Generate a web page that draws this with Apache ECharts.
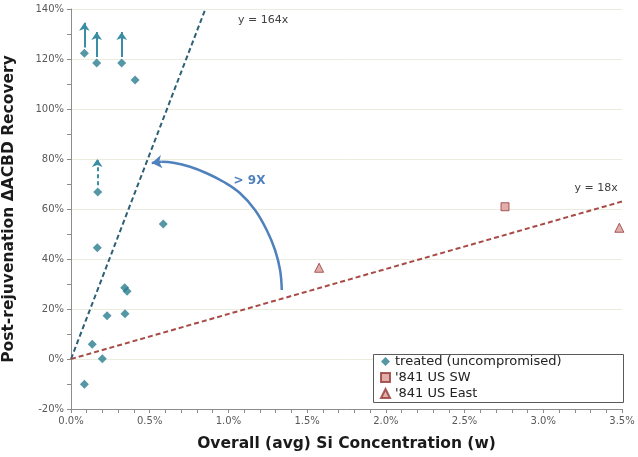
<!DOCTYPE html>
<html>
<head>
    <meta charset="UTF-8">
    <title>Si concentration vs recovery</title>
    <script src="https://cdn.jsdelivr.net/npm/echarts@6/dist/echarts.min.js"></script>
</head>
<style>
    html, body { margin: 0; padding: 0; background: #fff; }
    #chart { width: 638px; height: 457px; }
</style>
<body>
<div id="chart"></div>
<script>
// data (x = Si %, y = recovery %)
const treated = [
    [0.085, 122.3], [0.163, 118.4], [0.322, 118.4], [0.407, 111.6],
    [0.170, 66.8], [0.167, 44.5], [0.586, 54.0], [0.341, 28.5],
    [0.356, 27.1], [0.229, 17.3], [0.343, 18.1], [0.135, 5.9],
    [0.199, 0.1], [0.085, -10.1]
];
const usSW = [[2.757, 60.9]];
const usEast = [[1.576, 36.5], [3.483, 52.5]];

// "at least" arrows above capped points: [x, from, to, dashed]
const capArrows = [
    [0.085, 124.6, 134.5, false],
    [0.163, 120.8, 130.8, false],
    [0.322, 120.8, 130.8, false],
    [0.167, 69.5, 80.0, true]
];

// fitted slopes
const steepSlope = 164;
const flatSlope = 18;

// hand-drawn ">9X" arc
const arcPts = [
    [1.339, 27.6], [1.328, 35.6], [1.296, 43.6], [1.243, 51.6],
    [1.169, 59.6], [1.074, 66.3], [0.968, 70.9], [0.862, 74.3],
    [0.756, 76.9], [0.650, 78.5], [0.575, 78.9]
];
const arcTip = [0.513, 78.4];

const xTicks = { min: 0, max: 3.5, step: 0.5 };
const yTicks = { min: -20, max: 140, step: 20 };

const FONT = 'DejaVu Sans';
const chart = echarts.init(document.getElementById('chart'));

const steepEnd = yTicks.max / steepSlope;

const option = {
    animation: false,
    textStyle: { fontFamily: FONT },
    grid: { left: 71, right: 16, top: 9, bottom: 48, outerBoundsMode: 'none', containLabel: false },
    graphic: [{
        type: 'rect', left: 373, top: 354, z: 3,
        shape: { width: 250, height: 48 },
        style: { fill: '#fff', stroke: '#5a5a5a', lineWidth: 1 }
    }],
    legend: {
        z: 10,
        orient: 'vertical',
        left: 380, top: 355,
        itemGap: 3,
        itemWidth: 9, itemHeight: 9,
        padding: 0,
        textStyle: { fontFamily: FONT, fontSize: 13, color: '#222' },
        data: ['treated (uncompromised)', "'841 US SW", "'841 US East"]
    },
    xAxis: {
        type: 'value',
        min: xTicks.min, max: xTicks.max, interval: xTicks.step,
        name: 'Overall (avg) Si Concentration (w)',
        nameLocation: 'middle', nameGap: 27,
        nameTextStyle: { fontFamily: FONT, fontSize: 15.5, fontWeight: 'bold', color: '#1a1a1a' },
        axisLine: { onZero: false, lineStyle: { color: '#8c8c8c', width: 1 } },
        axisTick: { show: true, length: 4, lineStyle: { color: '#8c8c8c' } },
        minorTick: { show: true, splitNumber: 5, length: 4, lineStyle: { color: '#8c8c8c' } },
        axisLabel: { fontFamily: FONT, fontSize: 10, color: '#595959', margin: 7,
            formatter: v => v.toFixed(1) + '%' },
        splitLine: { show: false }
    },
    yAxis: {
        type: 'value',
        min: yTicks.min, max: yTicks.max, interval: yTicks.step,
        name: 'Post-rejuvenation \u0394ACBD Recovery',
        nameLocation: 'middle', nameGap: 54,
        nameTextStyle: { fontFamily: FONT, fontSize: 15.5, fontWeight: 'bold', color: '#1a1a1a' },
        axisLine: { show: true, lineStyle: { color: '#8c8c8c', width: 1 } },
        axisTick: { show: true, length: 4, lineStyle: { color: '#8c8c8c' } },
        minorTick: { show: true, splitNumber: 2, length: 4, lineStyle: { color: '#8c8c8c' } },
        axisLabel: { fontFamily: FONT, fontSize: 10, color: '#595959', margin: 7,
            formatter: v => v + '%' },
        splitLine: { show: true, lineStyle: { color: '#eaeddd', width: 1 } }
    },
    series: [
        {
            name: 'y164', type: 'line', z: 2,
            data: [[0, 0], [steepEnd, steepSlope * steepEnd]],
            symbol: 'none', silent: true,
            lineStyle: { color: '#2d6075', width: 2, type: [5, 3] },
            markPoint: {
                symbol: 'circle', symbolSize: 0,
                label: { show: true, formatter: 'y = 164x', fontFamily: FONT, fontSize: 11, color: '#404040' },
                data: [{ coord: [1.22, 135.6] }]
            }
        },
        {
            name: 'y18', type: 'line', z: 2,
            data: [[0, 0], [xTicks.max, flatSlope * xTicks.max]],
            symbol: 'none', silent: true,
            lineStyle: { color: '#a84a45', width: 2, type: [5, 3] },
            markPoint: {
                symbol: 'circle', symbolSize: 0,
                label: { show: true, formatter: 'y = 18x', fontFamily: FONT, fontSize: 11, color: '#404040' },
                data: [{ coord: [3.335, 68.5] }]
            }
        },
        {
            name: 'arc', type: 'line', z: 3,
            data: arcPts, smooth: 0.4,
            symbol: 'none', silent: true,
            lineStyle: { color: '#4f81bd', width: 2.5 },
            markLine: {
                symbol: ['none', 'arrow'], symbolSize: 10, silent: true,
                label: { show: false },
                lineStyle: { color: '#4f81bd', width: 2.5, type: 'solid' },
                data: [[{ coord: arcPts[arcPts.length - 1] }, { coord: arcTip }]]
            },
            markPoint: {
                symbol: 'circle', symbolSize: 0,
                label: { show: true, formatter: '> 9X', fontFamily: FONT, fontSize: 12,
                    fontWeight: 'bold', color: '#4f81bd' },
                data: [{ coord: [1.134, 71.3] }]
            }
        },
        {
            name: 'treated (uncompromised)', type: 'scatter', z: 5,
            data: treated,
            symbol: 'diamond', symbolSize: 9,
            itemStyle: { color: '#2b7d8f' },
            markLine: {
                symbol: ['none', 'arrow'], symbolSize: 8, silent: true,
                label: { show: false },
                data: capArrows.map(a => [
                    { coord: [a[0], a[1]], lineStyle: { color: '#3a8ea3', width: 2, type: a[3] ? [4, 3] : 'solid' } },
                    { coord: [a[0], a[2]] }
                ])
            }
        },
        {
            name: "'841 US SW", type: 'scatter', z: 5,
            data: usSW,
            symbol: 'rect', symbolSize: 8,
            itemStyle: { color: '#d99a97', borderColor: '#953735', borderWidth: 1 }
        },
        {
            name: "'841 US East", type: 'scatter', z: 5,
            data: usEast,
            symbol: 'triangle', symbolSize: 9,
            itemStyle: { color: '#d99a97', borderColor: '#953735', borderWidth: 1 }
        }
    ]
};
chart.setOption(option);
</script>
</body>
</html>
